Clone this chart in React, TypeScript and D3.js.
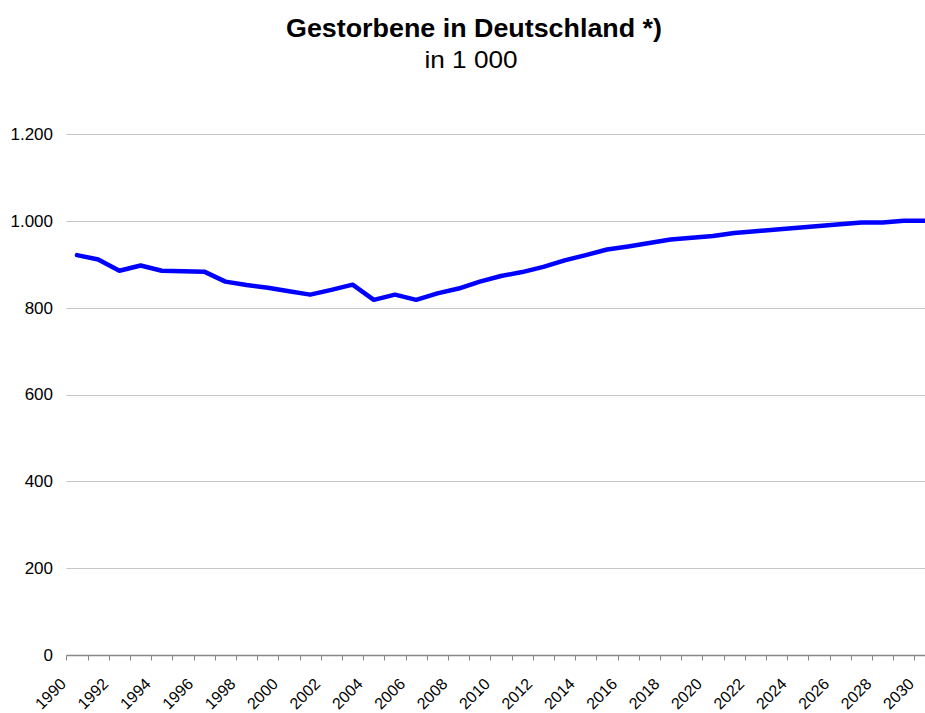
import { useEffect, useRef } from 'react';
import * as d3 from 'd3';

// Deaths in Germany, 1990-2030 (in thousands).
const years = d3.range(1990, 2031).map(String);
const deaths = [
  921, 911, 885, 897, 885, 884, 883, 860, 852, 846,
  838, 830, 841, 853, 818, 830, 818, 833, 844, 860,
  873, 882, 894, 909, 921, 934, 941, 949, 957, 961,
  965, 972, 976, 980, 984, 988, 992, 996, 996, 1000,
  1000,
];
const yTicks = [0, 200, 400, 600, 800, 1000, 1200];
const labelYears = years.filter((_, i) => i % 2 === 0);

const title = 'Gestorbene in Deutschland *)';
const subtitle = 'in 1 000';

export default function App() {
  const svgRef = useRef<SVGSVGElement>(null);

  useEffect(() => {
    const width = 925;
    const height = 713;
    const left = 66.4;
    const band = 21.2;
    const top = 134;
    const bottom = 655;

    const svg = d3.select(svgRef.current);
    svg.selectAll('*').remove();
    svg.attr('width', width).attr('height', height).attr('viewBox', `0 0 ${width} ${height}`);

    const font = 'Arial, "Liberation Sans", sans-serif';

    const x = d3.scaleBand()
      .domain(years)
      .range([left, left + band * years.length])
      .padding(0);

    const y = d3.scaleLinear().domain([0, 1200]).range([bottom, top]);

    const de = d3.formatLocale({ decimal: ',', thousands: '.', grouping: [3], currency: ['', ' €'] });
    const fmt = de.format(',d');

    svg.append('rect').attr('width', width).attr('height', height).attr('fill', '#fff');

    // title block -- reference text runs wider than Arial at its cap height
    svg.append('text')
      .attr('x', 474).attr('y', 37)
      .attr('text-anchor', 'middle')
      .attr('textLength', 376).attr('lengthAdjust', 'spacingAndGlyphs')
      .style('font-family', font).style('font-size', '25px').style('font-weight', 'bold')
      .text(title);
    svg.append('text')
      .attr('x', 471).attr('y', 68)
      .attr('text-anchor', 'middle')
      .attr('textLength', 93).attr('lengthAdjust', 'spacingAndGlyphs')
      .style('font-family', font).style('font-size', '24px')
      .text(subtitle);

    // gridlines
    svg.append('g')
      .selectAll('line')
      .data(yTicks.filter((t) => t > 0))
      .join('line')
      .attr('x1', left).attr('x2', width)
      .attr('y1', (d) => Math.round(y(d)) + 0.5).attr('y2', (d) => Math.round(y(d)) + 0.5)
      .attr('stroke', '#c6c6c6').attr('stroke-width', 1);

    // y labels
    svg.append('g')
      .selectAll('text')
      .data(yTicks)
      .join('text')
      .attr('x', 53).attr('y', (d) => y(d))
      .attr('dy', '0.35em')
      .attr('text-anchor', 'end')
      .style('font-family', font).style('font-size', '17px')
      .text((d) => fmt(d));

    // x axis with category-boundary ticks
    const xAxis = svg.append('g').attr('transform', `translate(0,${Math.round(bottom) + 0.5})`);
    xAxis.append('line')
      .attr('x1', left).attr('x2', width)
      .attr('stroke', '#868686').attr('stroke-width', 1.5);
    xAxis.selectAll('.tick')
      .data(years)
      .join('line')
      .attr('class', 'tick')
      .attr('x1', (d) => Math.round(x(d)!) + 0.5).attr('x2', (d) => Math.round(x(d)!) + 0.5)
      .attr('y1', 0).attr('y2', 5)
      .attr('stroke', '#868686').attr('stroke-width', 1);

    // rotated labels; kept just inside the bottom edge
    svg.append('g')
      .selectAll('text')
      .data(labelYears)
      .join('text')
      .attr('transform', (d) => `translate(${x(d)! + band / 2 - 10},${bottom + 30}) rotate(-45)`)
      .attr('text-anchor', 'end')
      .style('font-family', font).style('font-size', '16px')
      .text((d) => d);

    // series
    const line = d3.line<number>()
      .x((_, i) => x(years[i])! + band / 2)
      .y((d) => y(d));

    svg.append('path')
      .datum(deaths)
      .attr('d', line)
      .attr('fill', 'none')
      .attr('stroke', '#0000ff')
      .attr('stroke-width', 4.5)
      .attr('stroke-linejoin', 'round')
      .attr('stroke-linecap', 'round');
  }, []);

  return (
    <svg
      ref={svgRef}
      style={{ position: 'absolute', left: 0, top: 0, display: 'block' }}
    />
  );
}
